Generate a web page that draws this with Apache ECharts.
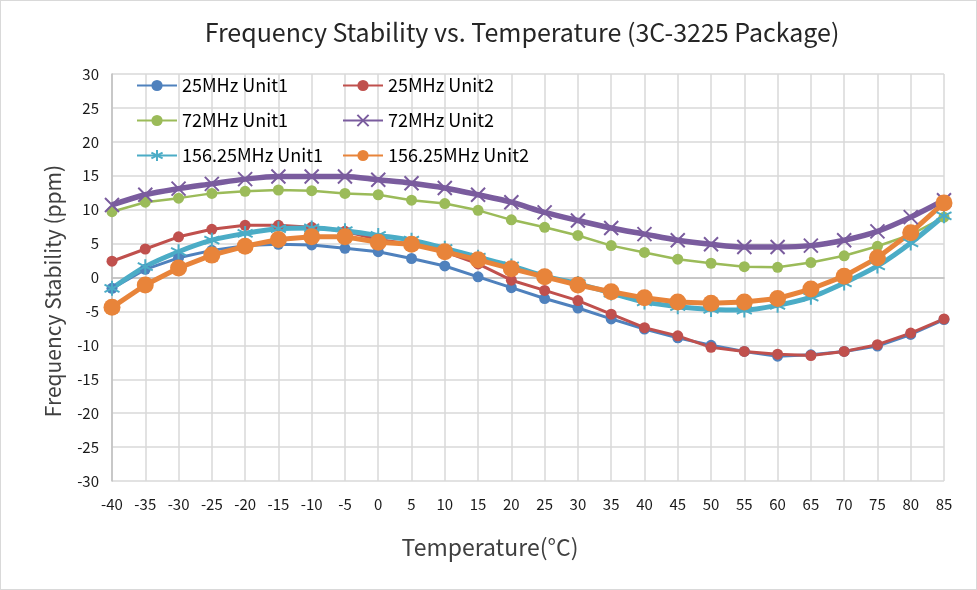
<!DOCTYPE html>
<html>
<head>
<meta charset="utf-8">
<script src="https://cdn.jsdelivr.net/npm/echarts@6/dist/echarts.min.js"></script>
<style>
html,body{margin:0;padding:0;background:#fff;}
#c{width:977px;height:590px;box-sizing:border-box;border:1px solid #d9d9d9;}
</style>
</head>
<body>
<div id="c"></div>
<script>
const categories = ['-40','-35','-30','-25','-20','-15','-10','-5','0','5','10','15','20','25','30','35','40','45','50','55','60','65','70','75','80','85'];
const seriesNames = ['25MHz Unit1','25MHz Unit2','72MHz Unit1','72MHz Unit2','156.25MHz Unit1','156.25MHz Unit2'];
const mhz25Unit1 = [-1.6,1.2,2.9,4.0,4.7,4.9,4.8,4.3,3.8,2.8,1.7,0.1,-1.5,-3.1,-4.5,-6.1,-7.6,-8.9,-10.0,-10.9,-11.6,-11.4,-10.9,-10.1,-8.4,-6.2];
const mhz25Unit2 = [2.4,4.2,6.0,7.1,7.7,7.7,7.4,6.8,5.6,4.9,3.8,2.0,-0.4,-1.9,-3.4,-5.4,-7.4,-8.6,-10.3,-10.9,-11.3,-11.5,-10.9,-9.9,-8.2,-6.1];
const mhz72Unit1 = [9.7,11.1,11.7,12.4,12.7,12.9,12.8,12.4,12.2,11.4,10.9,9.9,8.5,7.4,6.2,4.7,3.7,2.7,2.1,1.6,1.5,2.2,3.2,4.6,6.3,8.9];
const mhz72Unit2 = [10.7,12.2,13.1,13.8,14.5,14.9,14.9,14.9,14.4,13.9,13.2,12.2,11.1,9.6,8.4,7.3,6.4,5.5,4.9,4.5,4.5,4.7,5.5,6.8,8.9,11.4];
const mhz156Unit1 = [-1.6,1.6,3.8,5.5,6.5,7.2,7.3,6.9,6.2,5.5,4.3,3.0,1.7,0.2,-0.9,-2.3,-3.6,-4.3,-4.7,-4.8,-4.1,-2.9,-0.8,1.7,5.1,9.1];
const mhz156Unit2 = [-4.4,-1.1,1.4,3.3,4.6,5.6,6.0,6.0,5.2,4.9,3.8,2.6,1.3,0.1,-1.1,-2.1,-3.0,-3.6,-3.8,-3.6,-3.1,-1.7,0.2,2.9,6.6,11.0];
const titleText = 'Frequency Stability vs. Temperature (3C-3225 Package)';
const xAxisName = 'Temperature(°C)';
const yAxisName = 'Frequency Stability (ppm)';

const FONT = '"Noto Sans CJK SC", "Noto Sans", sans-serif';
const xSym = 'path://M-10,-10L10,10M-10,10L10,-10';
const starSym = 'path://M0,-10L0,10M-8.66,-5L8.66,5M-8.66,5L8.66,-5';

function circleSeries(name, data, color, lw, size) {
  return {
    name, type: 'line', data,
    symbol: 'circle', symbolSize: size,
    lineStyle: { color, width: lw },
    itemStyle: { color, borderWidth: 0 },
    emphasis: { disabled: true }
  };
}
function strokeSeries(name, data, color, sym, size, lw, smooth) {
  return {
    name, type: 'line', data, smooth,
    symbol: sym, symbolSize: size,
    lineStyle: { color, width: lw },
    itemStyle: { color, borderColor: color, borderWidth: 2 },
    emphasis: { disabled: true }
  };
}

const chart = echarts.init(document.getElementById('c'), null, { renderer: 'canvas' });
chart.setOption({
  animation: false,
  backgroundColor: '#fff',
  title: [{
    text: titleText,
    left: 516, top: 14, textAlign: 'center',
    textStyle: { fontFamily: FONT, fontSize: 25, fontWeight: 'normal', color: '#262626' }
  }, {
    text: xAxisName,
    left: 484, top: 530, textAlign: 'center',
    textStyle: { fontFamily: FONT, fontSize: 23, fontWeight: 'normal', color: '#404040' }
  }],
  graphic: [{
    type: 'text', x: 52, y: 290, rotation: Math.PI / 2,
    style: { text: yAxisName, fontFamily: FONT, fontSize: 21, fill: '#404040', align: 'center', verticalAlign: 'middle' }
  }],
  legend: {
    left: 130, top: 67, width: 420,
    itemWidth: 40, itemHeight: 14, itemGap: 10,
    data: seriesNames,
    textStyle: { fontFamily: FONT, fontSize: 18, color: '#000', width: 150, lineHeight: 25 }
  },
  grid: { left: 111, right: 32, top: 73, bottom: 108, containLabel: false },
  xAxis: {
    type: 'category', data: categories, boundaryGap: false,
    axisLine: { lineStyle: { color: '#bfbfbf', width: 1.5 } },
    axisTick: { show: false },
    axisLabel: { fontFamily: FONT, fontSize: 15, color: '#1a1a1a', margin: 16 },
    splitLine: { show: true, lineStyle: { color: '#d9d9d9', width: 1.5 } }
  },
  yAxis: {
    type: 'value', min: -30, max: 30, interval: 5,
    axisLine: { show: true, lineStyle: { color: '#bfbfbf', width: 1.5 } },
    axisTick: { show: false },
    axisLabel: { fontFamily: FONT, fontSize: 15, color: '#1a1a1a', margin: 13 },
    splitLine: { show: true, lineStyle: { color: '#d9d9d9', width: 1.5 } }
  },
  series: [
    circleSeries(seriesNames[0], mhz25Unit1, '#4f81bd', 3, 11),
    circleSeries(seriesNames[1], mhz25Unit2, '#c0504d', 3, 11),
    circleSeries(seriesNames[2], mhz72Unit1, '#9bbb59', 2.5, 11),
    strokeSeries(seriesNames[3], mhz72Unit2, '#7a5c9e', xSym, 14, 5.5, 0.3),
    strokeSeries(seriesNames[4], mhz156Unit1, '#4bacc6', starSym, 15, 5, 0.3),
    circleSeries(seriesNames[5], mhz156Unit2, '#e8843a', 5, 17)
  ]
});
</script>
</body>
</html>
